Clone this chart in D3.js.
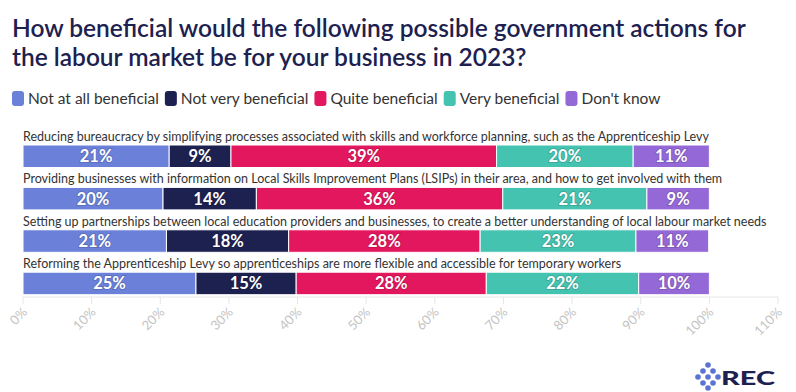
<!DOCTYPE html>
<html>
<head>
<meta charset="utf-8">
<script src="https://cdn.jsdelivr.net/npm/d3@7"></script>
<style>
  body { margin: 0; background: #fff; font-family: Lato, "Open Sans", sans-serif; }
  svg { display: block; }
</style>
</head>
<body>
<svg id="chart" width="796" height="392"></svg>
<script>
const categories = [
  "Reducing bureaucracy by simplifying processes associated with skills and workforce planning, such as the Apprenticeship Levy",
  "Providing businesses with information on Local Skills Improvement Plans (LSIPs) in their area, and how to get involved with them",
  "Setting up partnerships between local education providers and businesses, to create a better understanding of local labour market needs",
  "Reforming the Apprenticeship Levy so apprenticeships are more flexible and accessible for temporary workers"
];
const seriesNames = ["Not at all beneficial", "Not very beneficial", "Quite beneficial", "Very beneficial", "Don't know"];
const notAtAll = [21.3, 20.4, 20.9, 25.2];
const notVery = [9.0, 13.6, 17.8, 14.6];
const quite = [38.7, 35.9, 27.9, 27.7];
const very = [19.9, 21.0, 22.7, 22.2];
const dontKnow = [11.1, 9.1, 10.6, 10.3];
const xTicks = [0, 10, 20, 30, 40, 50, 60, 70, 80, 90, 100, 110];
const colors = ["#6a80d9", "#1d2150", "#e3175e", "#45c3b1", "#9468d6"];

const svg = d3.select("#chart");

// title
svg.append("text")
  .attr("x", 12).attr("y", 37)
  .attr("fill", "#1d2150")
  .attr("font-size", 24.5)
  .attr("font-weight", 600)
  .selectAll("tspan")
  .data(["How beneficial would the following possible government actions for",
         "the labour market be for your business in 2023?"])
  .join("tspan")
  .attr("x", 12)
  .attr("dy", (d, i) => i ? 28.5 : 0)
  .text(d => d);

// legend
const legend = svg.append("g").attr("transform", "translate(12,91)");
let lx = 0;
seriesNames.forEach((name, i) => {
  const g = legend.append("g").attr("transform", `translate(${lx},0)`);
  g.append("rect").attr("width", 12).attr("height", 15).attr("rx", 3)
    .attr("fill", colors[i]);
  const t = g.append("text").attr("x", 16).attr("y", 13)
    .attr("font-size", 15.5).attr("fill", "#333").text(name);
  lx += 16 + t.node().getComputedTextLength() + 6;
});

const x = d3.scaleLinear().domain([0, 110]).range([23, 778]);
const y = d3.scaleBand().domain(categories).range([124.6, 294.2]).padding(0);

const rows = categories.map((c, i) => {
  const vals = [notAtAll[i], notVery[i], quite[i], very[i], dontKnow[i]];
  let acc = 0;
  return { cat: c, segs: vals.map((v, k) => { const s = { k, v, x0: acc, x1: acc + v }; acc += v; return s; }) };
});

// axis
const axisY = 297;
svg.append("line").attr("x1", x(0)).attr("x2", x(110))
  .attr("y1", axisY).attr("y2", axisY).attr("stroke", "#e6e6e6");
const ticks = svg.append("g");
ticks.selectAll("line").data(xTicks).join("line")
  .attr("x1", d => x(d)).attr("x2", d => x(d))
  .attr("y1", axisY).attr("y2", axisY + 7)
  .attr("stroke", "#e6e6e6");
ticks.selectAll("text").data(xTicks).join("text")
  .attr("transform", d => `translate(${x(d) + 5},${axisY + 16}) rotate(-45)`)
  .attr("text-anchor", "end")
  .attr("font-size", 13)
  .attr("fill", "#c4c4c4")
  .text(d => d + "%");

// rows
const row = svg.selectAll("g.row").data(rows).join("g")
  .attr("class", "row")
  .attr("transform", d => `translate(0,${y(d.cat)})`);

row.append("text")
  .attr("x", 23).attr("y", 16.3)
  .attr("font-size", 12.5).attr("fill", "#333")
  .text(d => d.cat);

const seg = row.selectAll("g.seg").data(d => d.segs).join("g").attr("class", "seg");
seg.append("rect")
  .attr("x", d => x(d.x0)).attr("width", d => x(d.x1) - x(d.x0))
  .attr("y", 20.4).attr("height", 22.5)
  .attr("fill", d => colors[d.k])
  .attr("stroke", "#fff").attr("stroke-width", 1);
seg.append("text")
  .attr("x", d => (x(d.x0) + x(d.x1)) / 2)
  .attr("y", 37.5)
  .attr("text-anchor", "middle")
  .attr("font-size", 16.5).attr("font-weight", 700)
  .attr("fill", "#fff")
  .style("paint-order", "stroke")
  .attr("stroke", "rgba(0,0,0,0.15)").attr("stroke-width", 2)
  .text(d => d3.format(".0f")(d.v) + "%");

// logo
const logo = svg.append("g").attr("transform", "translate(699,375)");
const dots = [[9, -10], [4, -4], [14, -4], [-1, 2], [9, 2], [19, 2], [4, 8], [14, 8], [9, 13]];
logo.selectAll("circle").data(dots).join("circle")
  .attr("cx", d => d[0]).attr("cy", d => d[1]).attr("r", 2.8)
  .attr("fill", "#5b73d3");
logo.append("text").attr("x", 22).attr("y", 10)
  .attr("font-size", 19).attr("font-weight", 900).attr("fill", "#1d2150")
  .attr("textLength", 54).attr("lengthAdjust", "spacingAndGlyphs")
  .text("REC");
</script>
</body>
</html>
